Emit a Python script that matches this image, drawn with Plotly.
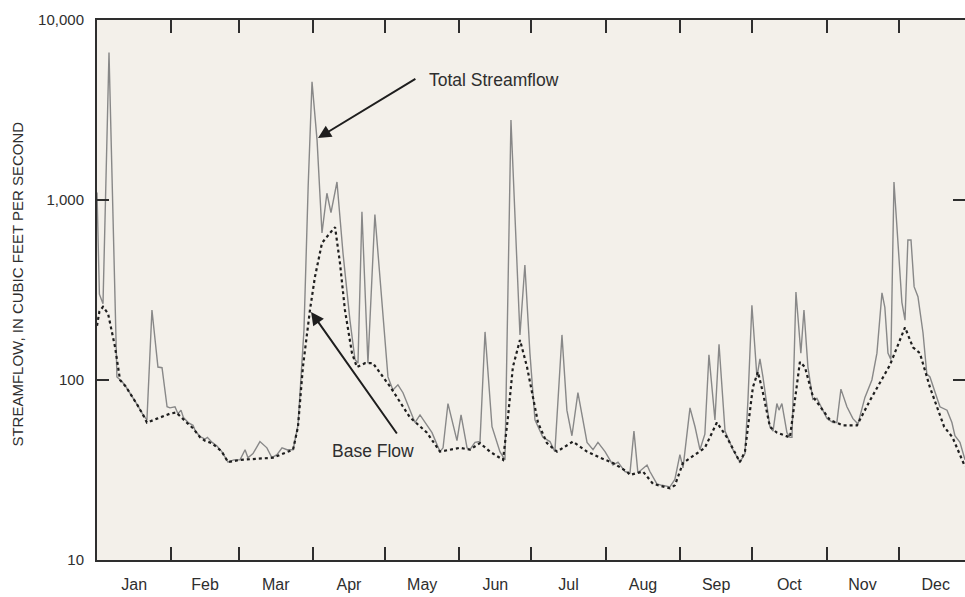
import numpy as np
import plotly.graph_objects as go

# ---- data (day of year, streamflow in cubic feet per second) ----
total_day = [0, 1, 2.5, 5, 8.3, 10.4, 12, 15, 17, 19.2, 20.8, 22.9, 25.4, 27.1, 29.2, 30.4, 32.5,
             33.75, 35, 36, 37, 38, 40, 41, 43, 45, 46, 48, 50, 52, 54.6, 57, 59.6, 61.7, 62.9,
             65, 67.9, 70.8, 72.9, 75, 77.1, 79.2, 81.7, 83.75, 86.25, 88, 89.6, 91.7, 93.75,
             95.8, 97.5, 100, 102.5, 105.4, 107.5, 108.75, 110.4, 112.9, 115.8, 118.75, 121.25,
             123.3, 125.4, 127.5, 132.5, 134.6, 136.7, 139.6, 142.9, 144.2, 146.25, 150, 151.7,
             154.2, 155.4, 157.5, 159.6, 161.7, 164.6, 167.9, 170, 172.5, 176.25, 178.3, 180.4,
             182.5, 185.8, 188.75, 190.8, 193.75, 195.8, 197.9, 200.4, 204.2, 206.7, 208.75,
             211.7, 215, 217.1, 220, 222.1, 223.75, 225.4, 229.2, 230.4, 233.3, 235.4, 238.75,
             240.8, 241.7, 242.9, 244.2, 247.1, 249.2, 251.25, 253.3, 255, 257.5, 259.2, 261.7,
             265, 267.9, 270, 271.25, 272.9, 275, 276.25, 277.5, 280.4, 281.7, 283.3, 284.2,
             285.4, 287.5, 288.75, 289.6, 291.25, 293.3, 294.6, 296.25, 298.3, 300, 304.2,
             306.7, 308.3, 310, 312.5, 315, 317.1, 320, 322.9, 325, 327.1, 328.3, 329.6, 330.8,
             332.1, 335.4, 336.7, 337.9, 339.2, 340.5, 342.1, 344.2, 345.8, 347.1, 349.2,
             351.25, 354.2, 356.25, 357.5, 359.6, 361.7]
total_flow = [1100, 300, 265, 6600, 104, 98, 92, 80, 72, 64, 60, 245, 118, 117, 71, 70, 71,
              65, 68, 62, 60, 58, 56, 52, 48.5, 47, 48, 45, 43, 40, 35, 36, 36, 41, 37,
              39, 45.5, 42, 37, 38.5, 42, 41, 41, 56, 190, 1200, 4530, 2150, 656,
              1090, 850, 1259, 508, 215, 130, 124, 860, 124, 830, 253, 104,
              88, 94, 85, 58, 64, 58, 51, 40, 42, 74, 46, 64,
              42, 41, 45, 45.5, 185, 55, 40, 36, 2780, 178, 435, 141,
              60, 48, 45.5, 40, 178, 68, 49, 85, 45, 41, 45,
              40, 33.7, 35, 31, 30.5, 52, 30.5, 33.7, 31, 26.5, 26, 25.5,
              28, 31.6, 38.5, 32.5, 70, 55, 41, 50, 138, 60, 158, 52,
              41, 35, 39, 77, 260, 104, 131, 104, 55, 52, 74, 68,
              74, 51, 48, 48, 308, 141, 245, 118, 78, 79, 61,
              58, 58, 89, 71, 61, 57, 80, 100, 141, 305, 253, 141, 130,
              1260, 270, 215, 600, 600, 330, 290, 183, 108, 104, 85,
              71, 68, 58, 49, 45, 36]

base_day = [0, 1, 2.5, 4.6, 7.5, 9.6, 12, 15, 17, 19.2, 20.8, 25, 30.4, 33, 36, 38, 40, 43,
            45, 48, 52, 54.6, 59.6, 65, 73.3, 81.7, 83.75, 85.8, 88.75, 90.8, 93.75, 97.1,
            99.2, 101.25, 103.3, 106.25, 108.3, 111.7, 115, 122.1, 130.4, 137.5, 142.9,
            151.25, 155.4, 159.6, 163.75, 169.2, 171.25, 173.3, 176.25, 179.2, 181.7, 183.75,
            187.5, 191.7, 198.3, 204.2, 209.6, 215, 220.8, 222.1, 227.5, 231.7, 238.75, 240.8,
            244.2, 250, 253.3, 258.3, 262.5, 267.9, 270, 273.3, 275.4, 277.5, 280.4, 283.3,
            288.75, 290.8, 292.9, 295, 298.3, 305.4, 310.8, 316.7, 322.1, 330.4, 336.7, 340,
            342.9, 347.1, 353, 356.5, 361.7]
base_flow = [200, 240, 255, 234, 153, 100, 92, 80, 72, 64, 58, 61, 65, 66, 60, 57, 54, 48,
             46, 44.5, 40, 35, 36, 36.5, 37, 41, 55, 118, 245, 373, 577, 656,
             707, 446, 245, 141, 118, 124, 124, 92, 62, 51, 40,
             42, 41, 44.6, 40, 36, 62, 118, 167, 118, 78, 58,
             44.6, 40, 45.5, 40, 37, 34.6, 31, 29.7, 31, 26.5, 25, 26,
             34.6, 39, 42, 58, 48, 35, 40, 91, 111, 85, 55, 51,
             48, 77, 126, 118, 81, 60, 56, 56, 77, 121, 196, 152,
             141, 91, 55, 48, 33]

month_starts = [31, 59, 90, 120, 151, 181, 212, 243, 273, 304, 334]
month_mids = [15.5, 45, 74.5, 105, 135.5, 166, 196.5, 227.5, 258, 288.5, 319, 349.5]
month_names = ["Jan", "Feb", "Mar", "Apr", "May", "Jun", "Jul", "Aug", "Sep", "Oct", "Nov", "Dec"]
y_ticks = [10, 100, 1000, 10000]
y_tick_text = ["10", "100", "1,000", "10,000"]

FONT = "Liberation Sans Narrow, Arial Narrow, Liberation Sans, Arial, sans-serif"
INK = "#2e2e2e"
XR = [0, 361.7]

fig = go.Figure()
fig.add_trace(go.Scatter(x=total_day, y=total_flow, mode="lines",
                         line=dict(color="#888888", width=1.4), showlegend=False))
fig.add_trace(go.Scatter(x=base_day, y=base_flow, mode="lines",
                         line=dict(color="#1e1e1e", width=2.2, dash="dot"), showlegend=False))

fig.update_layout(
    width=965, height=597,
    margin=dict(l=97, r=0, t=20, b=37, autoexpand=False),
    paper_bgcolor="white", plot_bgcolor="#f3f0ea",
    font=dict(family=FONT, color=INK, size=16),
    xaxis=dict(range=XR, tickvals=month_starts, ticktext=[""] * len(month_starts),
               ticks="inside", ticklen=13, tickwidth=2, tickcolor=INK,
               showline=True, linecolor=INK, linewidth=2, mirror="ticks",
               showgrid=False, zeroline=False),
    xaxis2=dict(range=XR, overlaying="x", anchor="y", side="bottom",
                tickvals=month_mids, ticktext=month_names,
                ticks="outside", ticklen=10, tickcolor="rgba(0,0,0,0)",
                showline=False, showgrid=False, zeroline=False,
                tickfont=dict(size=16, color=INK, family=FONT)),
    yaxis=dict(type="log", range=[1, 4], tickvals=y_ticks, ticktext=y_tick_text,
               ticks="inside", ticklen=12, tickwidth=2, tickcolor=INK,
               showline=True, linecolor=INK, linewidth=2, mirror=False,
               showgrid=False, zeroline=False, ticklabelstandoff=8,
               tickfont=dict(size=15, color=INK, family=FONT)),
    yaxis2=dict(type="log", range=[1, 4], overlaying="y", anchor="x", side="right",
                tickvals=[100, 1000], ticks="inside", ticklen=12, tickwidth=2, tickcolor=INK,
                showticklabels=False, showline=False, showgrid=False, zeroline=False),
)

# invisible trace to bind secondary axes
fig.add_trace(go.Scatter(x=[None], y=[None], xaxis="x2", yaxis="y2", showlegend=False,
                         hoverinfo="skip"))

# y-axis title
fig.add_annotation(text="STREAMFLOW, IN CUBIC FEET PER SECOND", xref="paper", yref="paper",
                   x=-0.091, y=0.51, xanchor="center", yanchor="middle", textangle=-90,
                   showarrow=False, font=dict(size=15, color=INK, family=FONT))

# annotations with arrows
fig.add_annotation(text="", xref="x", yref="y", axref="x", ayref="y",
                   x=92.1, y=np.log10(2210), ax=133.3, ay=np.log10(4760),
                   showarrow=True, arrowhead=2, arrowsize=1.3, arrowwidth=2, arrowcolor="#1e1e1e")
fig.add_annotation(text="Total Streamflow", xref="x", yref="y", x=137.5, y=np.log10(4640),
                   xanchor="left", showarrow=False, font=dict(size=17.5, color=INK, family=FONT))
fig.add_annotation(text="", xref="x", yref="y", axref="x", ayref="y",
                   x=89.2, y=np.log10(239), ax=125.4, ay=np.log10(49.5),
                   showarrow=True, arrowhead=2, arrowsize=1.3, arrowwidth=2, arrowcolor="#1e1e1e")
fig.add_annotation(text="Base Flow", xref="x", yref="y", x=115, y=np.log10(40.3),
                   showarrow=False, font=dict(size=17.5, color=INK, family=FONT))

fig.write_html("out.html", config={"displayModeBar": False},
               post_script="document.body.style.margin='0';")
